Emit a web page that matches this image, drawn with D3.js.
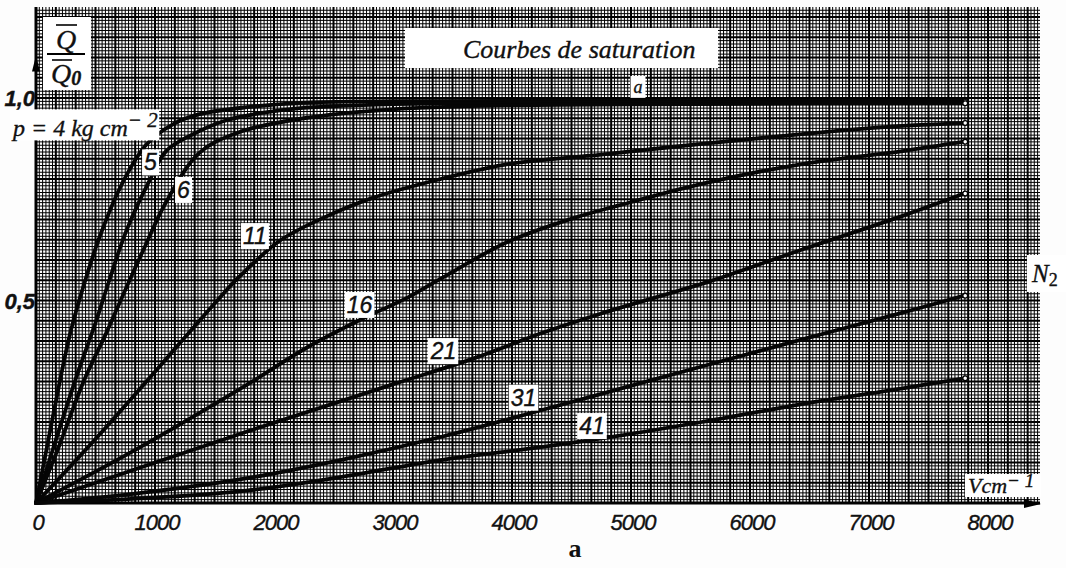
<!DOCTYPE html>
<html>
<head>
<meta charset="utf-8">
<script src="https://cdn.jsdelivr.net/npm/d3@7"></script>
<style>
    body { margin: 0; background: #fff; }
    svg { display: block; }
    .num { font-family: "Liberation Sans", sans-serif; font-style: italic; fill: #111; stroke: #111; stroke-width: 0.4; }
    .serif { font-family: "Liberation Serif", serif; font-style: italic; fill: #111; stroke: #111; stroke-width: 0.35; }
</style>
</head>
<body>
<div id="chart"></div>
<script>
// pressure of each curve (kg cm-2)
const pressures = [4, 5, 6, 11, 16, 21, 31, 41];

// [field V/cm, Q/Q0]
const curveP4 = [[0, 0], [100, 0.15], [200, 0.30], [280, 0.41], [363, 0.50], [532, 0.655], [726, 0.79], [928, 0.885], [1150, 0.935], [1375, 0.96], [1800, 0.978], [2219, 0.988], [3000, 0.992], [5000, 0.993], [7800, 0.993]];
const curveP5 = [[0, 0], [150, 0.14], [338, 0.31], [506, 0.45], [616, 0.55], [759, 0.672], [954, 0.796], [1097, 0.87], [1316, 0.91], [1600, 0.945], [1900, 0.963], [2219, 0.975], [3000, 0.985], [4000, 0.988], [7800, 0.99]];
const curveP6 = [[0, 0], [180, 0.13], [400, 0.30], [591, 0.42], [726, 0.51], [895, 0.62], [1097, 0.745], [1375, 0.865], [1700, 0.915], [2250, 0.95], [3000, 0.972], [4000, 0.982], [5500, 0.985], [7800, 0.987]];
const curveP11 = [[0, 0], [506, 0.16], [928, 0.30], [1544, 0.507], [1713, 0.56], [2051, 0.648], [2414, 0.704], [2835, 0.754], [3401, 0.80], [3966, 0.837], [4750, 0.86], [5595, 0.887], [6439, 0.911], [7283, 0.931], [7800, 0.938]];
const curveP16 = [[0, 0], [785, 0.123], [1750, 0.288], [2278, 0.384], [2751, 0.456], [3122, 0.507], [3401, 0.554], [3966, 0.645], [4523, 0.704], [4900, 0.735], [5595, 0.788], [6439, 0.837], [7283, 0.869], [7800, 0.892]];
const curveP21 = [[0, 0], [1750, 0.174], [2979, 0.291], [3679, 0.357], [4245, 0.419], [4751, 0.468], [5680, 0.549], [6439, 0.626], [7283, 0.709], [7800, 0.764]];
const curveP31 = [[0, 0], [800, 0.022], [1750, 0.06], [2557, 0.106], [3401, 0.163], [4245, 0.229], [4920, 0.283], [5595, 0.337], [6439, 0.404], [7283, 0.47], [7800, 0.512]];
const curveP41 = [[0, 0], [800, 0.01], [1750, 0.03], [2557, 0.064], [3401, 0.106], [4245, 0.138], [4920, 0.167], [5595, 0.20], [6439, 0.244], [7283, 0.283], [7800, 0.308]];

const curves = [curveP4, curveP5, curveP6, curveP11, curveP16, curveP21, curveP31, curveP41];

// axis ticks
const xTicks = [0, 1000, 2000, 3000, 4000, 5000, 6000, 7000, 8000];
const yTicks = [0.5, 1.0];
const yTickLabels = ["0,5", "1,0"];

// where the curve numbers sit (data units), for p = 5 ... 41
const curveLabelPos = [[962, 0.841], [1239, 0.773], [1840, 0.659], [2718, 0.489], [3424, 0.375], [4097, 0.260], [4672, 0.190]];

const W = 1066, H = 568;

const svg = d3.select("#chart").append("svg")
    .attr("width", W)
    .attr("height", H);

svg.append("rect").attr("width", W).attr("height", H).attr("fill", "#fdfdfd");

const x = d3.scaleLinear().domain([0, 8000]).range([36, 988]);
const y = d3.scaleLinear().domain([0, 1]).range([503, 98]);

const xMax = x.invert(1040), qMax = y.invert(7);

// graph paper
const paper = svg.append("g");
const vLines = d3.range(0, xMax, 1000 / 36);
const qLines = d3.range(0, qMax, 0.05 / 6);

paper.selectAll(".gv").data(vLines).enter().append("line")
    .attr("x1", d => x(d)).attr("x2", d => x(d))
    .attr("y1", y(0)).attr("y2", y(qMax))
    .attr("stroke", "#000")
    .attr("stroke-width", (d, i) => i % 6 === 0 ? 2 : 1);

paper.selectAll(".gq").data(qLines).enter().append("line")
    .attr("y1", d => y(d)).attr("y2", d => y(d))
    .attr("x1", x(0)).attr("x2", x(xMax))
    .attr("stroke", "#000")
    .attr("stroke-width", (d, i) => i % 6 === 0 ? 2 : 1);

// axes
const axes = svg.append("g").attr("stroke", "#000");
axes.append("line")
    .attr("x1", x(0)).attr("x2", x(xMax))
    .attr("y1", y(0)).attr("y2", y(0))
    .attr("stroke-width", 3);
axes.append("line")
    .attr("x1", x(0)).attr("x2", x(0))
    .attr("y1", y(0)).attr("y2", y(qMax))
    .attr("stroke-width", 3);

// arrow heads
svg.append("path")
    .attr("d", `M${x(0) - 4},${y(1.09) + 10}L${x(0)},${y(1.09) - 6}L${x(0) + 4},${y(1.09) + 10}Z`)
    .attr("fill", "#000");
svg.append("path")
    .attr("d", `M${x(xMax) - 16},${y(0) - 4}L${x(xMax) + 1},${y(0) + 1}L${x(xMax) - 16},${y(0) + 5}Z`)
    .attr("fill", "#000");

// curves
const line = d3.line()
    .x(d => x(d[0]))
    .y(d => y(d[1]))
    .curve(d3.curveCatmullRom.alpha(0.5));

svg.append("g").selectAll("path").data(curves).enter().append("path")
    .attr("d", line)
    .attr("fill", "none")
    .attr("stroke", "#050505")
    .attr("stroke-width", 3.8)
    .attr("stroke-linecap", "round");

// end markers
svg.append("g").selectAll("circle").data(curves).enter().append("circle")
    .attr("cx", d => x(d[d.length - 1][0]) + 1)
    .attr("cy", d => y(d[d.length - 1][1]))
    .attr("r", 2.4)
    .attr("fill", "#fff")
    .attr("stroke", "#000")
    .attr("stroke-width", 1.3);

// helper: white box behind a text node
function boxed(g, pad) {
    const b = g.select("text").node().getBBox();
    g.insert("rect", "text")
        .attr("x", b.x - pad).attr("y", b.y - pad + 2)
        .attr("width", b.width + 2 * pad).attr("height", b.height + 2 * pad - 4)
        .attr("fill", "#fff");
}

// curve numbers
pressures.slice(1).forEach((p, i) => {
    const g = svg.append("g");
    g.append("text")
        .attr("class", "num")
        .attr("x", x(curveLabelPos[i][0]))
        .attr("y", y(curveLabelPos[i][1]) + 8)
        .attr("text-anchor", "middle")
        .attr("font-size", 23)
        .text(p);
    boxed(g, 2);
});

// p = 4 label
{
    const g = svg.append("g");
    const t = g.append("text").attr("class", "serif")
        .attr("x", 13).attr("y", y(0.925) + 8)
        .attr("font-size", 24);
    t.append("tspan").text("p = " + pressures[0] + " kg cm");
    t.append("tspan").attr("dy", -9).attr("font-size", 21).text("\u2212 2");
    boxed(g, 1);
}

// tick labels
svg.append("g").selectAll("text").data(xTicks).enter().append("text")
    .attr("class", "num")
    .attr("x", d => x(d) + 2)
    .attr("y", y(0) + 27)
    .attr("text-anchor", "middle")
    .attr("font-size", 22)
    .attr("letter-spacing", -1)
    .text(d => d);

svg.append("g").selectAll("text").data(yTicks).enter().append("text")
    .attr("class", "num")
    .attr("x", x(0) - 1)
    .attr("y", d => y(d) + 8)
    .attr("text-anchor", "end")
    .attr("font-size", 22)
    .attr("font-weight", "bold")
    .text((d, i) => yTickLabels[i]);

// Q / Q0 label
{
    const g = svg.append("g");
    g.append("rect").attr("x", 43).attr("y", 17).attr("width", 48).attr("height", 73).attr("fill", "#fff");
    g.append("text").attr("class", "serif").attr("x", 66).attr("y", 49)
        .attr("text-anchor", "middle").attr("font-size", 28).attr("font-style", "normal").text("Q");
    g.append("line").attr("x1", 56).attr("x2", 77).attr("y1", 25).attr("y2", 25).attr("stroke", "#000").attr("stroke-width", 1.6);
    g.append("line").attr("x1", 47).attr("x2", 85).attr("y1", 54).attr("y2", 54).attr("stroke", "#000").attr("stroke-width", 1.8);
    const t = g.append("text").attr("class", "serif").attr("x", 51).attr("y", 83)
        .attr("font-size", 28).attr("font-style", "normal");
    t.append("tspan").text("Q");
    t.append("tspan").attr("dy", 2).attr("font-size", 20).attr("font-weight", "bold").text("0");
    g.append("line").attr("x1", 52).attr("x2", 72).attr("y1", 60).attr("y2", 60).attr("stroke", "#000").attr("stroke-width", 1.6);
}

// title
{
    const g = svg.append("g");
    g.append("rect").attr("x", 405).attr("y", 28).attr("width", 313).attr("height", 40).attr("fill", "#fff");
    g.append("text").attr("class", "serif").attr("x", 463).attr("y", 58)
        .attr("font-size", 26).text("Courbes de saturation");
}

// "a" over the top group
{
    const g = svg.append("g");
    g.append("text").attr("class", "serif")
        .attr("x", x(5059)).attr("y", y(1.025) + 5)
        .attr("text-anchor", "middle").attr("font-size", 18).text("a");
    boxed(g, 3);
}

// N2
{
    const g = svg.append("g");
    g.append("rect").attr("x", 1027).attr("y", 255).attr("width", 39).attr("height", 37).attr("fill", "#fff");
    const t = g.append("text").attr("class", "serif").attr("x", 1032).attr("y", 282).attr("font-size", 25);
    t.append("tspan").text("N");
    t.append("tspan").attr("dy", 4).attr("font-size", 18).attr("font-style", "normal").text("2");
}

// V cm-1
{
    const g = svg.append("g");
    g.append("rect").attr("x", 965).attr("y", 474).attr("width", 76).attr("height", 23).attr("fill", "#fff");
    const t = g.append("text").attr("class", "serif").attr("x", 968).attr("y", 493).attr("font-size", 22);
    t.append("tspan").text("Vcm");
    t.append("tspan").attr("dy", -6).attr("font-size", 19).text("\u2212 1");
}

// panel letter
svg.append("text")
    .attr("x", 575).attr("y", 557)
    .attr("text-anchor", "middle")
    .attr("font-family", "Liberation Serif, serif")
    .attr("font-size", 26)
    .attr("font-weight", "bold")
    .attr("fill", "#111")
    .text("a");
</script>
</body>
</html>
